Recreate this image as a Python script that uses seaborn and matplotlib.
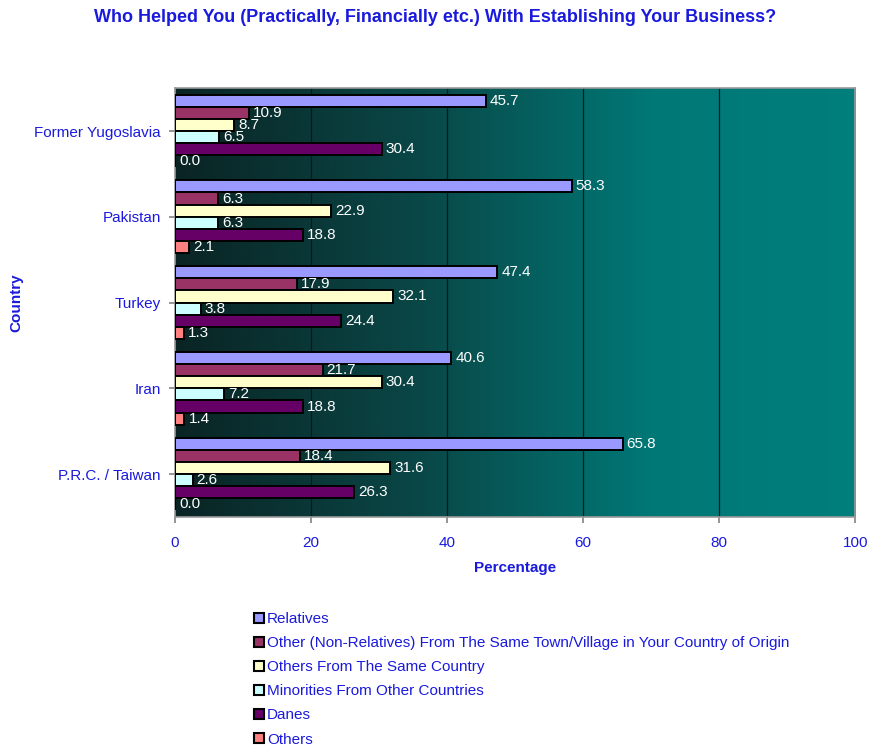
import numpy as np
import pandas as pd
import matplotlib
matplotlib.use("Agg")
import matplotlib.pyplot as plt
from matplotlib.colors import LinearSegmentedColormap
import seaborn as sns

countries = ["Former Yugoslavia", "Pakistan", "Turkey", "Iran", "P.R.C. / Taiwan"]
helpers = [
    "Relatives",
    "Other (Non-Relatives) From The Same Town/Village in Your Country of Origin",
    "Others From The Same Country",
    "Minorities From Other Countries",
    "Danes",
    "Others",
]
relatives = [45.7, 58.3, 47.4, 40.6, 65.8]
non_relatives_same_town = [10.9, 6.3, 17.9, 21.7, 18.4]
others_same_country = [8.7, 22.9, 32.1, 30.4, 31.6]
minorities_other = [6.5, 6.3, 3.8, 7.2, 2.6]
danes = [30.4, 18.8, 24.4, 18.8, 26.3]
others = [0.0, 2.1, 1.3, 1.4, 0.0]

colors = ["#9999ff", "#993366", "#ffffcc", "#ccffff", "#660066", "#ff8080"]
blue = "#1a1adc"

series = [relatives, non_relatives_same_town, others_same_country,
          minorities_other, danes, others]
rows = []
for name, vals in zip(helpers, series):
    for c, v in zip(countries, vals):
        rows.append({"Country": c, "Helper": name, "Percentage": v})
df = pd.DataFrame(rows)

sns.set_theme(style="white")
plt.rcParams["font.family"] = ["Liberation Sans", "DejaVu Sans"]

fig = plt.figure(figsize=(8.7, 7.47), dpi=100)
ax = fig.add_axes([0.201, 0.308, 0.782, 0.574])

# dark-to-teal horizontal gradient behind the bars
cmap = LinearSegmentedColormap.from_list(
    "bg", [(0.0, "#0a2424"), (0.35, "#0a4646"), (0.7, "#007876"), (1.0, "#007f7d")])
grad = np.linspace(0, 1, 256).reshape(1, -1)
ax.imshow(grad, cmap=cmap, aspect="auto", extent=[0, 100, 4.5, -0.5],
          zorder=0, interpolation="bicubic")

sns.barplot(data=df, y="Country", x="Percentage", hue="Helper",
            hue_order=helpers, order=countries, palette=colors,
            orient="h", width=0.85, edgecolor="black", linewidth=1.4,
            ax=ax, zorder=3, saturation=1)

for cont in ax.containers:
    ax.bar_label(cont, fmt="%.1f", padding=3, color="white", fontsize=11,
                 zorder=5)

ax.set_xlim(0, 100)
ax.set_ylim(4.5, -0.5)
ax.set_xticks([0, 20, 40, 60, 80, 100])
for x in [20, 40, 60, 80]:
    ax.axvline(x, color="#0a1a1a", linewidth=0.9, zorder=1)

ax.tick_params(axis="x", colors="#888888", labelcolor=blue, labelsize=11,
               length=4, direction="out", bottom=True, pad=10)
ax.tick_params(axis="y", colors="#888888", labelcolor=blue, labelsize=11,
               length=4, direction="out", left=True, pad=6)

for side in ["left", "bottom", "top", "right"]:
    ax.spines[side].set_color("#999999")
    ax.spines[side].set_linewidth(1.2)

ax.set_xlabel("Percentage", color=blue, fontsize=11, fontweight="bold", labelpad=8)
ax.set_ylabel("Country", color=blue, fontsize=11, fontweight="bold")
ax.yaxis.set_label_coords(-0.222, 0.5)

fig.suptitle("Who Helped You (Practically, Financially etc.) With Establishing Your Business?",
             color=blue, fontsize=13, fontweight="bold", x=0.5, y=0.988)

handles, labels = ax.get_legend_handles_labels()
if ax.legend_:
    ax.legend_.remove()
leg = fig.legend(handles, labels, loc="upper left",
                 bbox_to_anchor=(0.285, 1 - 606 / 747), frameon=False,
                 fontsize=11, labelspacing=0.66, handlelength=0.65,
                 handleheight=0.65, handletextpad=0.2, borderaxespad=0)
for t in leg.get_texts():
    t.set_color(blue)
for h in leg.legend_handles:
    h.set_edgecolor("black")
    h.set_linewidth(1.5)

fig.savefig("out.png", dpi=100, facecolor="white")
